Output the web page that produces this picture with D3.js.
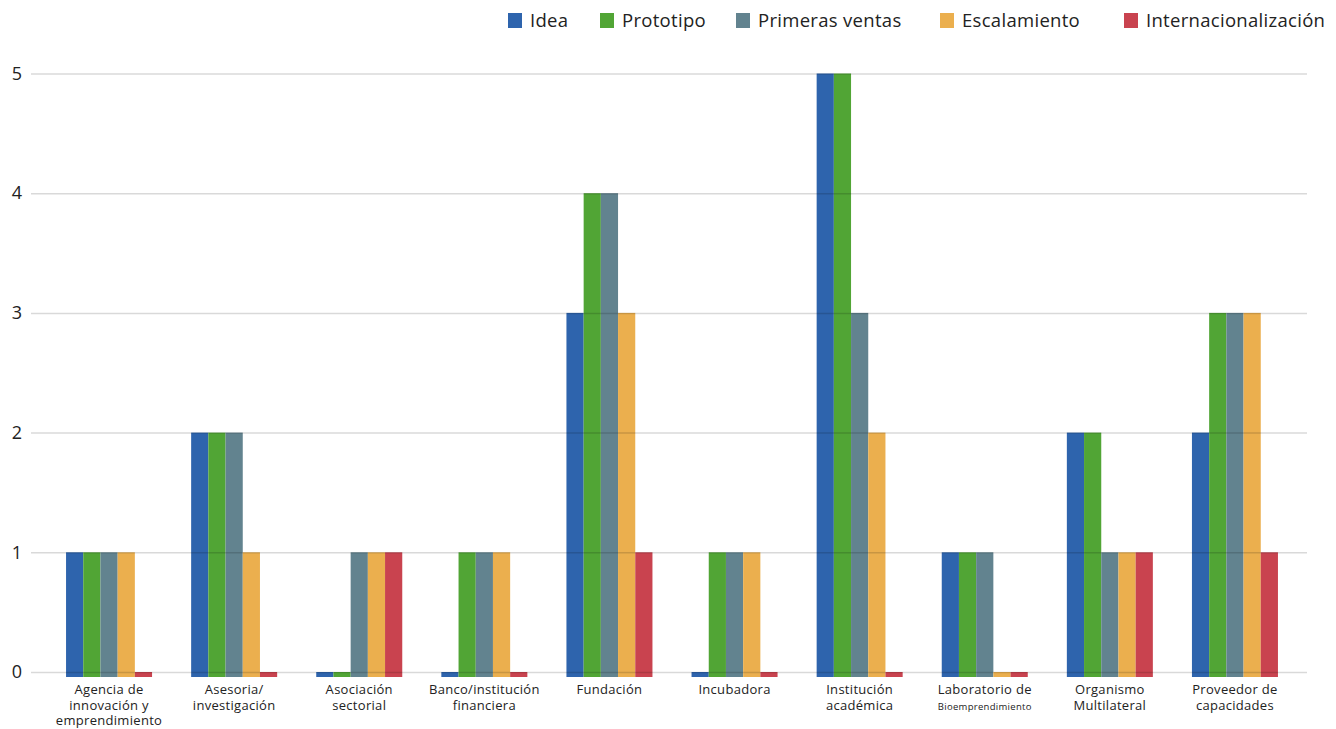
<!DOCTYPE html>
<html>
<head>
<meta charset="utf-8">
<script src="https://cdn.jsdelivr.net/npm/d3@7"></script>
<style>
  body { margin: 0; background: #fff; }
  svg text { font-family: "Open Sans", "Noto Sans", sans-serif; fill: #222; }
</style>
</head>
<body>
<div id="chart"></div>
<script>
var categories = [
  ['Agencia de', 'innovación y', 'emprendimiento'],
  ['Asesoria/', 'investigación'],
  ['Asociación', 'sectorial'],
  ['Banco/institución', 'financiera'],
  ['Fundación'],
  ['Incubadora'],
  ['Institución', 'académica'],
  ['Laboratorio de', 'Bioemprendimiento'],
  ['Organismo', 'Multilateral'],
  ['Proveedor de', 'capacidades']
];
var seriesNames = ['Idea', 'Prototipo', 'Primeras ventas', 'Escalamiento', 'Internacionalización'];
var idea = [1, 2, 0, 0, 3, 0, 5, 1, 2, 2];
var prototipo = [1, 2, 0, 1, 4, 1, 5, 1, 2, 3];
var primerasVentas = [1, 2, 1, 1, 4, 1, 3, 1, 1, 3];
var escalamiento = [1, 1, 1, 1, 3, 1, 2, 0, 1, 3];
var internacionalizacion = [0, 0, 1, 0, 1, 0, 0, 0, 1, 1];
var yTicks = [0, 1, 2, 3, 4, 5];

var series = [idea, prototipo, primerasVentas, escalamiento, internacionalizacion];
var colors = ['#2e64ad', '#51a535', '#62838f', '#ebaf4e', '#c9434f'];
var legendX = [508, 600, 736, 940, 1124];

var width = 1336, height = 729;
var stub = 5; // bars run a little below the zero line

var svg = d3.select('#chart').append('svg')
    .attr('width', width)
    .attr('height', height);

var keys = categories.map(function(c) { return c.join(' '); });

var x0 = d3.scaleBand()
    .domain(keys)
    .range([46.5, 1297.5])
    .paddingInner(0.3125)
    .paddingOuter(0.15625);

var x1 = d3.scaleBand()
    .domain(d3.range(series.length))
    .range([0, x0.bandwidth()]);

var y = d3.scaleLinear()
    .domain([0, 5])
    .range([672, 73.5]);

// bars
var groups = svg.append('g').selectAll('g')
    .data(keys)
    .enter().append('g')
    .attr('transform', function(d) { return 'translate(' + x0(d) + ',0)'; });

groups.selectAll('rect')
    .data(function(d, i) { return series.map(function(s, j) { return {s: j, v: s[i]}; }); })
    .enter().append('rect')
    .attr('x', function(d) { return x1(d.s); })
    .attr('width', x1.bandwidth())
    .attr('y', function(d) { return y(d.v); })
    .attr('height', function(d) { return y(0) - y(d.v) + stub; })
    .attr('fill', function(d) { return colors[d.s]; });

// grid lines (drawn on top, slightly transparent)
var yAxis = svg.append('g')
    .attr('transform', 'translate(31,0)')
    .call(d3.axisLeft(y).tickValues(yTicks).tickSize(-(1307 - 31)).tickFormat(d3.format('d')));
yAxis.select('.domain').remove();
yAxis.selectAll('.tick line')
    .attr('stroke', 'rgba(0,0,0,0.15)')
    .attr('stroke-width', 1.5);
yAxis.selectAll('.tick text')
    .attr('x', -9)
    .attr('dy', '0.32em')
    .style('font-size', '18px')
    .style('fill', '#222');

// category labels
var xl = svg.append('g');
categories.forEach(function(lines, i) {
  var cx = x0(keys[i]) + x0.bandwidth() / 2;
  var t = xl.append('text')
      .attr('text-anchor', 'middle')
      .attr('x', cx)
      .attr('y', 694)
      .style('font-size', '13px')
      .style('letter-spacing', '0.3px');
  lines.forEach(function(line, k) {
    t.append('tspan')
      .attr('x', cx)
      .attr('dy', k === 0 ? 0 : 15.5)
      .style('font-size', line === 'Bioemprendimiento' ? '9.5px' : '13px')
      .text(line);
  });
});

// legend
var legend = svg.append('g').selectAll('g')
    .data(seriesNames)
    .enter().append('g')
    .attr('transform', function(d, i) { return 'translate(' + legendX[i] + ',0)'; });
legend.append('rect')
    .attr('y', 13)
    .attr('width', 14)
    .attr('height', 15)
    .attr('fill', function(d, i) { return colors[i]; });
legend.append('text')
    .attr('x', 22)
    .attr('y', 27)
    .style('font-size', '18.5px')
    .style('letter-spacing', '0.3px')
    .text(function(d) { return d; });
</script>
</body>
</html>
